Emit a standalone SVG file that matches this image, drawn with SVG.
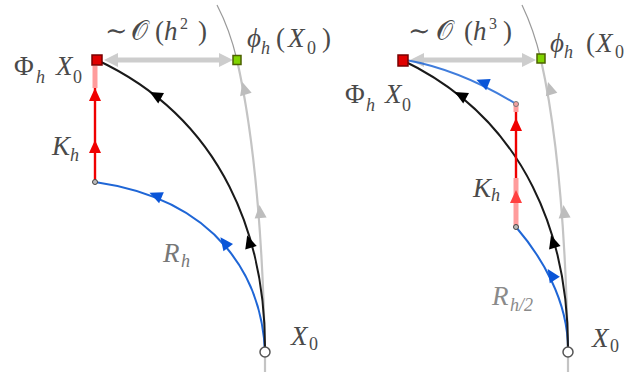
<svg xmlns="http://www.w3.org/2000/svg" xmlns:xlink="http://www.w3.org/1999/xlink" width="633" height="377" viewBox="0 0 633 377">
<style>
  .flow{fill:none;stroke:#c4c4c4;stroke-width:2.2}
  .flowtop{fill:none;stroke:#9a9a9a;stroke-width:1.2}
  .gap{stroke:#cdcdcd;stroke-width:5}
  .exact{fill:none;stroke:#1a1a1a;stroke-width:2}
  .rk{fill:none;stroke:#1f66d6;stroke-width:2}
  .kick{stroke:#f00000;stroke-width:2.4}
  .pink{stroke:#ff9c9c;stroke-width:5}
  .lbl{font-family:"Liberation Serif","DejaVu Serif",serif;font-size:27px;fill:#4a4a4a}
  .it{font-style:italic}
  .sub{font-size:18px;font-style:italic}
  .rm{font-style:normal}
  .start{fill:#fff;stroke:#555;stroke-width:1.5}
  .mid{fill:#bbb;stroke:#444;stroke-width:1}
  .num{fill:#e00000;stroke:#7a0000;stroke-width:1.5}
  .ex{fill:#80d400;stroke:#4c6100;stroke-width:1.5}
</style>
<defs>
  <path id="ah" d="M0,0 L-13,-6 L-13,6 Z"/>
  <path id="gah" d="M0,0 L-14,-7 L-14,7 Z"/>
</defs>

<g id="connectors">
  <!-- left panel -->
  <path class="flow" d="M265,372 L265,352 C263,250 255,140 237,60"/>
  <path class="flowtop" d="M237,60 Q230,30 217,5"/>
  <use href="#ah" fill="#bdbdbd" transform="translate(242.3,82) rotate(-106)"/>
  <use href="#ah" fill="#bdbdbd" transform="translate(259.5,205) rotate(-95)"/>

  <line class="gap" x1="118" y1="60" x2="220" y2="60"/>
  <use href="#gah" fill="#cdcdcd" transform="translate(104,60) rotate(180)"/>
  <use href="#gah" fill="#cdcdcd" transform="translate(233,60)"/>

  <path class="rk" d="M265,352 C262,280 220,200 95,182"/>
  <use href="#ah" fill="#0a55d8" transform="translate(149.5,192.7) rotate(203)"/>
  <use href="#ah" fill="#0a55d8" transform="translate(220.4,237.2) rotate(-127)"/>

  <path class="exact" d="M265,352 C266,240 225,120 97,60"/>
  <use href="#ah" fill="#000" transform="translate(149.7,92.1) rotate(208.6)"/>
  <use href="#ah" fill="#000" transform="translate(247.2,235.3) rotate(-107)"/>

  <line class="pink" x1="95" y1="66" x2="95" y2="88"/>
  <line class="kick" x1="95" y1="182" x2="95" y2="88"/>
  <use href="#ah" fill="#f00000" transform="translate(95,88) rotate(-90)"/>
  <use href="#ah" fill="#f00000" transform="translate(95,140) rotate(-90)"/>

  <!-- right panel -->
  <path class="flow" d="M568,372 L568,352 C566,250 559,140 541,60"/>
  <path class="flowtop" d="M541,60 Q534,30 522,5"/>
  <use href="#ah" fill="#bdbdbd" transform="translate(548,82) rotate(-106)"/>
  <use href="#ah" fill="#bdbdbd" transform="translate(563.5,205) rotate(-95)"/>

  <line class="gap" x1="424" y1="60" x2="522" y2="60"/>
  <use href="#gah" fill="#cdcdcd" transform="translate(410,60) rotate(180)"/>
  <use href="#gah" fill="#cdcdcd" transform="translate(536,60)"/>

  <path class="rk" d="M568,352 C569,300 540,255 516,227"/>
  <use href="#ah" fill="#0a55d8" transform="translate(547.7,269) rotate(-123)"/>
  <path class="rk" d="M516,104 C490,88 450,68 406,60" stroke-opacity="0.85"/>
  <use href="#ah" fill="#0a55d8" transform="translate(476.4,79.8) rotate(202)"/>

  <path class="exact" d="M568,352 C569,240 528,120 402,60"/>
  <use href="#ah" fill="#000" transform="translate(454.7,92.1) rotate(208.6)"/>
  <use href="#ah" fill="#000" transform="translate(551,235.3) rotate(-107)"/>

  <line class="pink" x1="516" y1="228" x2="516" y2="178"/>
  <line class="pink" x1="516" y1="104" x2="516" y2="112"/>
  <line class="kick" x1="516" y1="178" x2="516" y2="112"/>
  <use href="#ah" fill="#f00000" transform="translate(516,118) rotate(-90)"/>
  <use href="#ah" fill="#ff4040" transform="translate(516,190) rotate(-90)"/>
</g>

<g id="node-left-X0"><circle class="start" cx="265" cy="352" r="5"/></g>
<g id="node-left-mid"><circle class="mid" cx="95" cy="182" r="2.5"/></g>
<g id="node-left-Phi"><rect class="num" x="92" y="55" width="10" height="10"/></g>
<g id="node-left-phi"><rect class="ex" x="233" y="55.5" width="8" height="9"/></g>

<g id="node-right-X0"><circle class="start" cx="568" cy="352" r="5"/></g>
<g id="node-right-mid1"><circle class="mid" cx="516" cy="227" r="2.5"/></g>
<g id="node-right-mid2"><circle class="mid" cx="516" cy="104" r="2.5" style="fill:#f6a0a0;stroke:#777"/></g>
<g id="node-right-Phi"><rect class="num" x="398" y="55" width="10" height="11"/></g>
<g id="node-right-phi"><rect class="ex" x="537" y="54" width="8" height="9"/></g>

<g id="labels-left">
  <text class="lbl"><tspan x="14" y="75">Φ</tspan><tspan class="sub" x="36" y="83">h</tspan><tspan class="it" x="56" y="75">X</tspan><tspan class="sub rm" x="73" y="83">0</tspan></text>
  <text class="lbl"><tspan x="105" y="40">∼</tspan><tspan x="131" y="40">𝒪</tspan><tspan x="155" y="40">(</tspan><tspan class="it" x="164" y="40">h</tspan><tspan x="180" y="29" style="font-size:16px">2</tspan><tspan x="198" y="40">)</tspan></text>
  <text class="lbl"><tspan class="it" x="247" y="47">ϕ</tspan><tspan class="sub" x="261" y="54">h</tspan><tspan x="276" y="47">(</tspan><tspan class="it" x="288" y="47">X</tspan><tspan class="sub rm" x="307" y="54">0</tspan><tspan x="322" y="47">)</tspan></text>
  <text class="lbl"><tspan class="it" x="52" y="155">K</tspan><tspan class="sub" x="70" y="161">h</tspan></text>
  <text class="lbl" style="fill:#777"><tspan class="it" x="163" y="262">R</tspan><tspan class="sub" x="181" y="267">h</tspan></text>
  <text class="lbl"><tspan class="it" x="291" y="345">X</tspan><tspan class="sub rm" x="309" y="350">0</tspan></text>
</g>

<g id="labels-right">
  <text class="lbl"><tspan x="345" y="103">Φ</tspan><tspan class="sub" x="366" y="111">h</tspan><tspan class="it" x="385" y="103">X</tspan><tspan class="sub rm" x="402" y="111">0</tspan></text>
  <text class="lbl"><tspan x="408" y="40">∼</tspan><tspan x="436" y="40">𝒪</tspan><tspan x="464" y="40">(</tspan><tspan class="it" x="473" y="40">h</tspan><tspan x="489" y="29" style="font-size:16px">3</tspan><tspan x="503" y="40">)</tspan></text>
  <text class="lbl"><tspan class="it" x="550" y="52">ϕ</tspan><tspan class="sub" x="564" y="58">h</tspan><tspan x="586" y="52">(</tspan><tspan class="it" x="596" y="52">X</tspan><tspan class="sub rm" x="615" y="58">0</tspan></text>
  <text class="lbl"><tspan class="it" x="473" y="197">K</tspan><tspan class="sub" x="491" y="201">h</tspan></text>
  <text class="lbl" style="fill:#8a8a8a"><tspan class="it" x="492" y="305">R</tspan><tspan class="sub" x="510" y="311">h/2</tspan></text>
  <text class="lbl"><tspan class="it" x="592" y="347">X</tspan><tspan class="sub rm" x="610" y="352">0</tspan></text>
</g>
</svg>
